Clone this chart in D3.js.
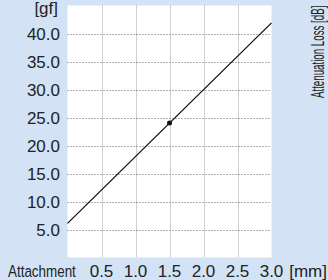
<!DOCTYPE html>
<html><head><meta charset="utf-8">
<script src="https://cdn.jsdelivr.net/npm/d3@7"></script>
<style>html,body{margin:0;padding:0;background:#d3e2f5;}svg{display:block;}</style>
</head><body>
<script>
const xTicks = [0.5, 1.0, 1.5, 2.0, 2.5, 3.0];
const yTicks = [5, 10, 15, 20, 25, 30, 35, 40];
const lineX = [0, 1.5, 3.0];
const lineY = [6.1, 24.0, 41.9];
const markerX = [1.5];
const markerY = [24.0];
const xUnit = "[mm]", yUnit = "[gf]", xTitle = "Attachment", rightTitle = "Attenuation Loss [dB]";

const W = 328, H = 280;
const svg = d3.select("body").append("svg").attr("width", W).attr("height", H);
svg.append("rect").attr("width", W).attr("height", H).attr("fill", "#d3e2f5");
const x = d3.scaleLinear().domain([0, 3]).range([67.5, 271.5]);
const y = d3.scaleLinear().domain([0, 45]).range([257.5, 5.5]);
svg.append("rect").attr("x", x(0)).attr("y", y(45)).attr("width", x(3) - x(0)).attr("height", y(0) - y(45)).attr("fill", "#fff");

const font = "'Liberation Sans', Arial, sans-serif";
// grid
svg.append("g").selectAll("line").data(xTicks.filter(d => d < 3)).join("line")
  .attr("x1", d => Math.round(x(d)) + 0.5).attr("x2", d => Math.round(x(d)) + 0.5)
  .attr("y1", y(45)).attr("y2", y(0))
  .attr("stroke", "#a0a0a0").attr("stroke-width", 1).attr("stroke-dasharray", "1,1");
svg.append("g").selectAll("line").data(yTicks).join("line")
  .attr("y1", d => Math.round(y(d)) + 0.5).attr("y2", d => Math.round(y(d)) + 0.5)
  .attr("x1", x(0)).attr("x2", x(3))
  .attr("stroke", "#666").attr("stroke-width", 1).attr("stroke-dasharray", "1,2");

// line
const pts = lineX.map((v, i) => [v, lineY[i]]);
svg.append("path").datum(pts).attr("d", d3.line().x(d => x(d[0])).y(d => y(d[1])))
  .attr("fill", "none").attr("stroke", "#111").attr("stroke-width", 1.3);
svg.append("g").selectAll("circle").data(markerX.map((v, i) => [v, markerY[i]])).join("circle")
  .attr("cx", d => x(d[0])).attr("cy", d => y(d[1])).attr("r", 2.5).attr("fill", "#111");

// y labels
svg.append("g").selectAll("text").data(yTicks).join("text")
  .attr("x", 60).attr("y", d => y(d)).attr("dy", "0.36em").attr("text-anchor", "end")
  .attr("font-family", font).attr("font-size", 17).attr("fill", "#222")
  .text(d => d.toFixed(1));
svg.append("text").attr("x", 58).attr("y", 8).attr("dy", "0.36em").attr("text-anchor", "end")
  .attr("font-family", font).attr("font-size", 17).attr("fill", "#222").text(yUnit);

// x labels
svg.append("g").selectAll("text").data(xTicks).join("text")
  .attr("x", d => x(d)).attr("y", 277).attr("text-anchor", "middle")
  .attr("font-family", font).attr("font-size", 17).attr("fill", "#222")
  .text(d => d.toFixed(1));
svg.append("text").attr("x", 327).attr("y", 277).attr("text-anchor", "end")
  .attr("font-family", font).attr("font-size", 17).attr("fill", "#222").text(xUnit);
svg.append("text").attr("transform", "translate(8,277) scale(0.79,1)")
  .attr("font-family", font).attr("font-size", 17).attr("fill", "#222").text(xTitle);

// right title
svg.append("text").attr("transform", "translate(324,98) rotate(-90) scale(0.54,1)")
  .attr("font-family", font).attr("font-size", 18).attr("fill", "#222").text(rightTitle);
</script>
</body></html>
